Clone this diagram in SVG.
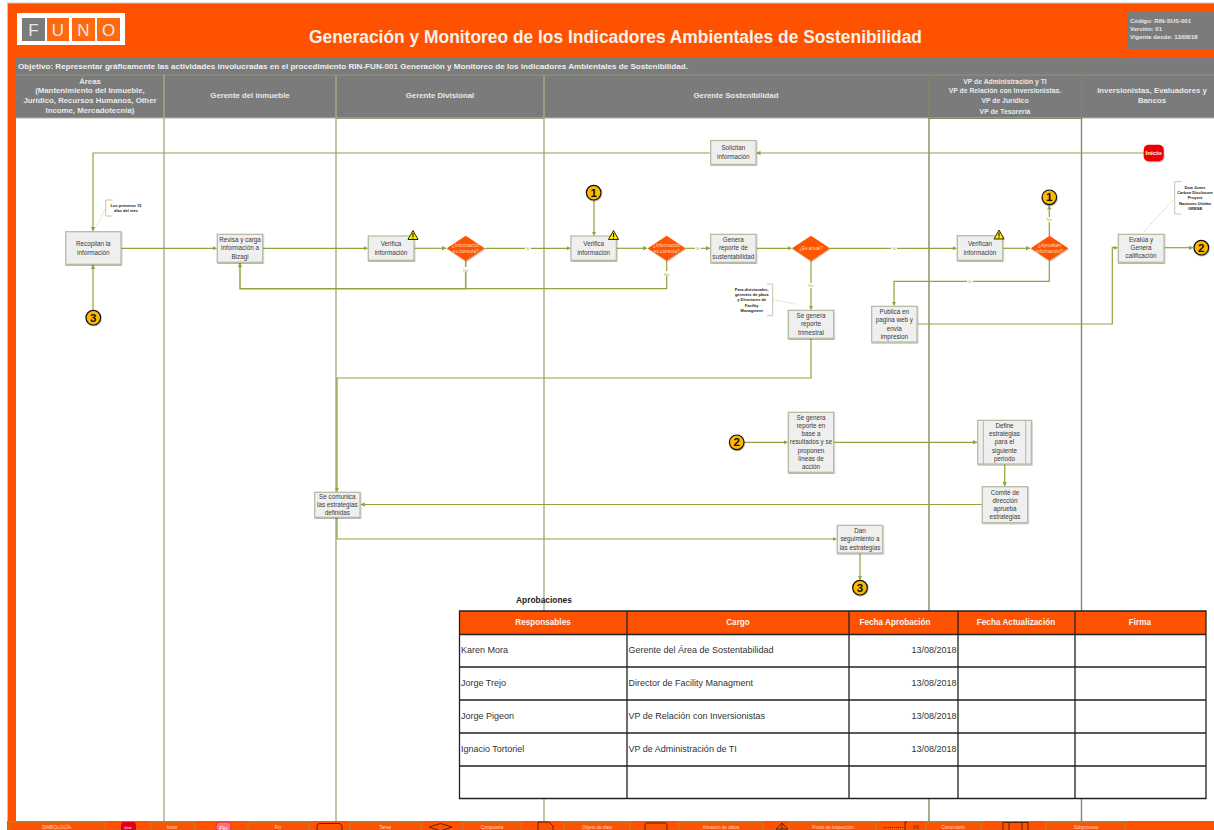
<svg xmlns="http://www.w3.org/2000/svg" width="1214" height="830" viewBox="0 0 1214 830">
<style>
text{font-family:"Liberation Sans",Arial,sans-serif}
.n{fill:#efefef;stroke:#b3b99c;stroke-width:1.2;filter:url(#sh)}
.t{font-size:6.3px;fill:#3a3a3a;text-anchor:middle}
.d{fill:#ff5500;filter:url(#sh)}
.dt{font-size:4.700px;fill:#ffd9c4;text-anchor:middle}
.c{fill:none;stroke:#8fa33f;stroke-width:1.2}
.ca{fill:none;stroke:#8fa33f;stroke-width:1.2;marker-end:url(#a)}
.lab{font-size:4.4px;fill:#a8b56a;text-anchor:middle}
.labbg{fill:#fff}
.circ{fill:#ffb800;stroke:#111;stroke-width:1.2;filter:url(#sh)}
.ct{font-size:11.5px;font-weight:700;fill:#111;text-anchor:middle}
.w{fill:#ffee00;stroke:#111;stroke-width:.9;stroke-linejoin:round}
.wm{stroke:#111;stroke-width:1.1;fill:none}
.br{fill:none;stroke:#c3c8ae;stroke-width:1}
.dot{fill:none;stroke:#b3bd7d;stroke-width:.9;stroke-dasharray:1 1.6}
.nt{font-size:4px;font-weight:700;fill:#222;text-anchor:middle}
.lh{font-size:7.8px;font-weight:700;fill:#e9e9e9;text-anchor:middle}
.lv{font-size:6.8px}
.lane{stroke:#a6ae8a;stroke-width:1.4}
.th{font-size:8.2px;font-weight:700;fill:#f6f6f6;text-anchor:middle}
.td{font-size:9px;fill:#333}
.tg{fill:none;stroke:#222;stroke-width:1.3}
.fb{fill:none;stroke:#a8873c;stroke-width:1}
.ft{font-size:4.6px;fill:#ffd9c4;text-anchor:middle}
.fs{fill:none;stroke:#4a2000;stroke-width:.9}
.lg{font-size:17px;fill:#e8e8e8;text-anchor:middle}
</style>
<defs>
<marker id="a" markerWidth="6" markerHeight="6" refX="4" refY="2.2" orient="auto" markerUnits="userSpaceOnUse"><path d="M0 0L4.2 2.2L0 4.4Z" fill="#8fa33f"/></marker>
<filter id="sh" x="-20%" y="-20%" width="140%" height="140%"><feDropShadow dx="0.5" dy="1" stdDeviation="0.7" flood-color="#000" flood-opacity="0.3"/></filter>
</defs>
<rect width="1214" height="830" fill="#fff"/>

<g id="frame">
<rect x="7" y="3" width="1207" height="55" fill="#ff5200"/>
<rect x="7" y="58" width="9" height="763" fill="#ff5200"/>
<path d="M7.5 3V821" stroke="#c8c8c0" stroke-width="1" fill="none"/>
<path d="M7 3H1214" stroke="#c8c8c0" stroke-width="1" fill="none"/>
<rect x="16" y="58" width="1198" height="17" fill="#7b7b7b"/>
<rect x="16" y="75" width="1198" height="43" fill="#7b7b7b"/>
<path d="M16 75H1214" stroke="#8f9775" stroke-width="1"/>
<path d="M16 118H1214" stroke="#b3b99c" stroke-width="1"/>
</g>

<g id="logo">
<rect x="17" y="13" width="108" height="32" fill="#fff"/>
<rect x="22" y="18" width="23" height="23" fill="#7b7b7b"/>
<rect x="47" y="18" width="22" height="23" fill="#ff6a10"/>
<rect x="72" y="18" width="23" height="23" fill="#ff6a10"/>
<rect x="97" y="18" width="23" height="23" fill="#ff6a10"/>
<text class="lg" x="33.5" y="36">F</text>
<text class="lg" x="58" y="36">U</text>
<text class="lg" x="83.5" y="36">N</text>
<text class="lg" x="108.5" y="36">O</text>
</g>

<g id="title">
<text x="309" y="43" font-size="18px" font-weight="700" fill="#f7f1ec" textLength="613" lengthAdjust="spacingAndGlyphs">Generación y Monitoreo de los Indicadores Ambientales de Sostenibilidad</text>
<rect x="1127" y="11" width="87" height="39" fill="#7b7b7b"/>
<text x="1130" y="23" font-size="6px" font-weight="700" fill="#e9e9e9">Código: RIN-SUS-001</text>
<text x="1130" y="31" font-size="6px" font-weight="700" fill="#e9e9e9">Versión: 01</text>
<text x="1130" y="39" font-size="6px" font-weight="700" fill="#e9e9e9">Vigente desde: 13/08/18</text>
<text x="18" y="68.500" font-size="7.800px" font-weight="700" fill="#f0f0f0" textLength="670" lengthAdjust="spacingAndGlyphs">Objetivo: Representar gráficamente las actividades involucradas en el procedimiento RIN-FUN-001 Generación y Monitoreo de los indicadores Ambientales de Sostenibilidad.</text>
</g>

<g id="lanes">
<path class="lane" d="M164 75V821"/>
<path class="lane" d="M336 75V821"/>
<path class="lane" d="M544 75V821"/>
<path class="lane" d="M929 75V821" style="stroke:#7f8a5e"/>
<path class="lane" d="M1081.500 75V821" style="stroke:#7f8a5e"/>
<path d="M336 118.500H544" stroke="#9aa383" stroke-width="1"/>
<path d="M929 118.500H1081" stroke="#7f8a5e" stroke-width="1"/>
<text class="lh" x="90" y="84">Áreas</text>
<text class="lh" x="90" y="93">(Mantenimiento del Inmueble,</text>
<text class="lh" x="90" y="103">Jurídico, Recursos Humanos, Other</text>
<text class="lh" x="90" y="113">Income, Mercadotecnia)</text>
<text class="lh" x="250" y="98">Gerente del inmueble</text>
<text class="lh" x="440" y="98">Gerente Divisional</text>
<text class="lh" x="736" y="98">Gerente Sostenibilidad</text>
<text class="lh lv" x="1005" y="84">VP de Administración y TI</text>
<text class="lh lv" x="1005" y="93">VP de Relación con Inversionistas.</text>
<text class="lh lv" x="1005" y="103">VP de Jurídico</text>
<text class="lh lv" x="1005" y="114">VP de Tesorería</text>
<text class="lh" x="1152" y="93">Inversionistas, Evaluadores y</text>
<text class="lh" x="1152" y="103">Bancos</text>
</g>

<g id="connectors">
<path class="ca" d="M1144 153H756.500"/>
<path class="ca" d="M710 153H93V231"/>
<path class="ca" d="M93 310V265"/>
<path class="ca" d="M121 248.300H216.500"/>
<path class="ca" d="M263 248.300H367.500"/>
<path class="ca" d="M414 248.300H446"/>
<path class="ca" d="M485 248.300H570.500"/>
<path class="ca" d="M617 248.300H647"/>
<path class="ca" d="M594 200.500V235.500"/>
<path class="ca" d="M685.500 248.300H710"/>
<path class="ca" d="M756.500 248.300H791.500"/>
<path class="ca" d="M830 248.300H956.500"/>
<path class="ca" d="M1003 248.300H1030"/>
<path class="ca" d="M465.700 261V288.700H240V263" style="stroke-width:1.5"/>
<path class="c" d="M666.700 261V288.700H465.700"/>
<path class="ca" d="M811 261V309.500"/>
<path class="ca" d="M1049.300 236V205.500"/>
<path class="ca" d="M1049.300 261V281.300H894V305.500"/>
<path class="ca" d="M917.500 324H1112.300V247.700H1117.500"/>
<path class="ca" d="M1164.500 247.700H1193"/>
<path class="ca" d="M811 338.500V378H337V491.500"/>
<path class="ca" d="M744.500 442.300H787.500"/>
<path class="ca" d="M834 442.300H977"/>
<path class="ca" d="M1004.700 464V486"/>
<path class="ca" d="M982 504.500H360.800"/>
<path class="ca" d="M337 517.500V539H836.500"/>
<path class="ca" d="M860 553.500V579.500"/>
<rect class="labbg" x="461" y="267" width="9" height="5"/><text class="lab" x="465.700" y="271.500">No</text>
<rect class="labbg" x="662" y="271" width="9" height="5"/><text class="lab" x="666.700" y="275.500">No</text>
<rect class="labbg" x="806.500" y="283" width="9" height="5"/><text class="lab" x="811" y="287">No</text>
<rect class="labbg" x="1045" y="217" width="9" height="5"/><text class="lab" x="1049.300" y="221">No</text>
<rect class="labbg" x="525" y="246" width="6" height="5"/><text class="lab" x="528" y="250">Si</text>
<rect class="labbg" x="695" y="246" width="6" height="5"/><text class="lab" x="698" y="250">Si</text>
<rect class="labbg" x="891" y="246" width="6" height="5"/><text class="lab" x="894" y="250">Si</text>
<rect class="labbg" x="967" y="279" width="6" height="5"/><text class="lab" x="970" y="283">Si</text>
<path class="dot" d="M105.700 208L95 229"/>
<path class="dot" d="M773.300 300L796.700 304.300"/>
<path class="dot" d="M1174.700 198.300L1142.700 233.300"/>
</g>

<g id="inicio"><rect x="1143.700" y="144.700" width="20" height="16.500" rx="5" fill="#ee0000" filter="url(#sh)"/><text x="1153.700" y="155" font-size="6.200px" font-weight="700" fill="#fff" text-anchor="middle">Inicio</text></g>
<g id="solicitan"><rect class="n" x="710.700" y="140.500" width="45.300" height="24"/><text class="t" x="733.300" y="150">Solicitan</text><text class="t" x="733.300" y="158.500">información</text></g>
<g id="recopilan"><rect class="n" x="65.700" y="231.700" width="55.300" height="32.600"/><text class="t" x="93.300" y="246">Recopilan la</text><text class="t" x="93.300" y="255">información</text></g>
<g id="revisa"><rect class="n" x="217.300" y="234.300" width="45.400" height="28"/><text class="t" x="240" y="241.500">Revisa y carga</text><text class="t" x="240" y="250">información a</text><text class="t" x="240" y="259">Bizagi</text></g>
<g id="verifica1"><rect class="n" x="368.300" y="236" width="45.700" height="24.300"/><text class="t" x="391" y="246">Verifica</text><text class="t" x="391" y="255">información</text></g>
<g id="warn1"><path class="w" d="M413 230.500L418 239.500H408Z"/><path class="wm" d="M413 233V237M413 237.800V238.800"/></g>
<g id="dec1"><path class="d" d="M465.700 235.700L484.700 248.300L465.700 261L446.700 248.300Z"/><text class="dt" x="465.700" y="247">¿Información</text><text class="dt" x="465.700" y="252.500">es correcta?</text></g>
<g id="verifica2"><rect class="n" x="571" y="236" width="45.300" height="24.300"/><text class="t" x="593.700" y="246">Verifica</text><text class="t" x="593.700" y="255">información</text></g>
<g id="warn2"><path class="w" d="M613.500 230.500L618.500 239.500H608.500Z"/><path class="wm" d="M613.500 233V237M613.500 237.800V238.800"/></g>
<g id="c1a"><circle class="circ" cx="593.700" cy="192.700" r="7.300"/><text class="ct" x="593.700" y="196.800">1</text></g>
<g id="dec2"><path class="d" d="M666.700 235.700L685.500 248.300L666.700 260.800L647.700 248.300Z"/><text class="dt" x="666.700" y="247">¿Información</text><text class="dt" x="666.700" y="252.500">es correcta?</text></g>
<g id="genera"><rect class="n" x="710.700" y="234.300" width="45.300" height="28"/><text class="t" x="733.300" y="241.500">Genera</text><text class="t" x="733.300" y="250">reporte de</text><text class="t" x="733.300" y="259">sustentabilidad</text></g>
<g id="dec3"><path class="d" d="M811 235.700L830 248.300L811 261L792 248.300Z"/><text class="dt" x="811" y="250">¿Es anual?</text></g>
<g id="trimestral"><rect class="n" x="788.300" y="310.300" width="45.400" height="28"/><text class="t" x="811" y="317.500">Se genera</text><text class="t" x="811" y="326">reporte</text><text class="t" x="811" y="334.500">trimestral</text></g>
<g id="verifican"><rect class="n" x="957.300" y="235.700" width="45.400" height="24.600"/><text class="t" x="980" y="246">Verifican</text><text class="t" x="980" y="254.500">información</text></g>
<g id="warn3"><path class="w" d="M999 230L1004 239H994Z"/><path class="wm" d="M999 232.500V236.500M999 237.300V238.300"/></g>
<g id="dec4"><path class="d" d="M1049.500 235.700L1068.300 248.300L1049.500 260.700L1030.700 248.300Z"/><text class="dt" x="1049.500" y="247">¿Aprueban</text><text class="dt" x="1049.500" y="252.500">información?</text></g>
<g id="c1b"><circle class="circ" cx="1049.300" cy="197.300" r="7.300"/><text class="ct" x="1049.300" y="201.400">1</text></g>
<g id="publica"><rect class="n" x="871.700" y="306.300" width="45.300" height="35.700"/><text class="t" x="894.300" y="314">Publica en</text><text class="t" x="894.300" y="322">pagina web y</text><text class="t" x="894.300" y="330.500">envia</text><text class="t" x="894.300" y="339">impresion</text></g>
<g id="evalua"><rect class="n" x="1118.300" y="234.300" width="45.700" height="28"/><text class="t" x="1141" y="242">Evalúa y</text><text class="t" x="1141" y="250">Genera</text><text class="t" x="1141" y="258">calificación</text></g>
<g id="c2a"><circle class="circ" cx="1201.300" cy="247.700" r="7.300"/><text class="ct" x="1201.300" y="251.800">2</text></g>
<g id="c3a"><circle class="circ" cx="93.300" cy="317.700" r="7.300"/><text class="ct" x="93.300" y="321.800">3</text></g>

<g id="note1"><path class="br" d="M112.700 200H105.700V216H112.700"/><text class="nt" x="126" y="206.500">Los primeros 15</text><text class="nt" x="126" y="212">días del mes</text></g>
<g id="note2"><path class="br" d="M767 284H772.700V315.700H767"/><text class="nt" x="751.700" y="290.500">Para divisionales,</text><text class="nt" x="751.700" y="295.500">gerentes de plaza</text><text class="nt" x="751.700" y="300.500">y Directores de</text><text class="nt" x="751.700" y="306.500">Facility</text><text class="nt" x="751.700" y="311.500">Managment</text></g>
<g id="note3"><path class="br" d="M1181.700 181.700H1174.700V214H1181.700"/><text class="nt" x="1195" y="188.500">Dow Jones</text><text class="nt" x="1195" y="193.500">Carbon Disclosure</text><text class="nt" x="1195" y="198.500">Proyect</text><text class="nt" x="1195" y="204.500">Naciones Unidas</text><text class="nt" x="1195" y="209.500">GRESB</text></g>

<g id="c2b"><circle class="circ" cx="736.700" cy="442.300" r="7.300"/><text class="ct" x="736.700" y="446.400">2</text></g>
<g id="reporte"><rect class="n" x="788.300" y="412.300" width="45.400" height="60"/><text class="t" x="811" y="420">Se genera</text><text class="t" x="811" y="428">reporte en</text><text class="t" x="811" y="436">base a</text><text class="t" x="811" y="444">resultados y se</text><text class="t" x="811" y="453">proponen</text><text class="t" x="811" y="461">líneas de</text><text class="t" x="811" y="469">acción</text></g>
<g id="define"><rect class="n" x="977.700" y="420.300" width="53.600" height="43.700"/><path d="M983.300 420.300V464M1025.700 420.300V464" stroke="#b3b99c" stroke-width="1" fill="none"/><text class="t" x="1004.500" y="428">Define</text><text class="t" x="1004.500" y="436">estrategias</text><text class="t" x="1004.500" y="444">para el</text><text class="t" x="1004.500" y="453">siguiente</text><text class="t" x="1004.500" y="461">periodo</text></g>
<g id="comite"><rect class="n" x="982.300" y="486.700" width="45.400" height="36"/><text class="t" x="1005" y="495">Comité de</text><text class="t" x="1005" y="503">dirección</text><text class="t" x="1005" y="511">aprueba</text><text class="t" x="1005" y="519">estrategias</text></g>
<g id="comunica"><rect class="n" x="314.700" y="492.300" width="45.300" height="25"/><text class="t" x="337.300" y="499">Se comunica</text><text class="t" x="337.300" y="507">las estrategias</text><text class="t" x="337.300" y="515">definidas</text></g>
<g id="dan"><rect class="n" x="837.300" y="525.300" width="45.400" height="27.700"/><text class="t" x="860" y="532.500">Dan</text><text class="t" x="860" y="541">seguimiento a</text><text class="t" x="860" y="550">las estrategias</text></g>
<g id="c3b"><circle class="circ" cx="860" cy="587.700" r="7.300"/><text class="ct" x="860" y="591.800">3</text></g>

<g id="tabla">
<text x="516" y="602.500" font-size="8.400px" font-weight="700" fill="#222">Aprobaciones</text>
<rect x="459.500" y="611" width="746.500" height="187.500" fill="#fff"/>
<rect x="459.500" y="611" width="746.500" height="23.500" fill="#ff5200"/>
<path class="tg" d="M459.500 611H1206V798.500H459.500ZM459.500 634.500H1206M459.500 667H1206M459.500 700H1206M459.500 733H1206M459.500 766H1206M627 611V798.500M849 611V798.500M958 611V798.500M1075 611V798.500"/>
<text class="th" x="543" y="625">Responsables</text>
<text class="th" x="738" y="625">Cargo</text>
<text class="th" x="895" y="625">Fecha Aprobación</text>
<text class="th" x="1016" y="625">Fecha Actualización</text>
<text class="th" x="1140" y="625">Firma</text>
<text class="td" x="461" y="653">Karen Mora</text><text class="td" x="628.500" y="653">Gerente del Área de Sostentabilidad</text><text class="td" x="956.500" y="653" text-anchor="end">13/08/2018</text>
<text class="td" x="461" y="686">Jorge Trejo</text><text class="td" x="628.500" y="686">Director de Facility Managment</text><text class="td" x="956.500" y="686" text-anchor="end">13/08/2018</text>
<text class="td" x="461" y="719">Jorge Pigeon</text><text class="td" x="628.500" y="719">VP de Relación con Inversionistas</text><text class="td" x="956.500" y="719" text-anchor="end">13/08/2018</text>
<text class="td" x="461" y="752">Ignacio Tortoriel</text><text class="td" x="628.500" y="752">VP de Administración de TI</text><text class="td" x="956.500" y="752" text-anchor="end">13/08/2018</text>
</g>

<g id="simbologia">
<rect x="7" y="821" width="1207" height="9" fill="#ff5200"/>
<rect class="fb" x="9" y="822" width="96" height="10"/><text class="ft" x="57" y="828.500">SIMBOLOGÍA:</text>
<rect x="121" y="822" width="15" height="10" rx="3" fill="#e0001a"/><text x="128" y="829" font-size="3px" fill="#fff" text-anchor="middle">Inicio</text>
<rect class="fb" x="151" y="822" width="44" height="10"/><text class="ft" x="172" y="829">Inicio</text>
<rect x="216" y="822" width="15" height="10" rx="4" fill="#ff6f6f" stroke="#e0304a"/><text x="223.500" y="829.500" font-size="6px" fill="#fff" text-anchor="middle">Fin</text>
<rect class="fb" x="248" y="822" width="61" height="10"/><text class="ft" x="278" y="828.500">Fin</text>
<rect class="fs" x="317" y="823.500" width="25" height="10" rx="3"/>
<rect class="fb" x="350" y="822" width="71" height="10"/><text class="ft" x="385" y="828.500">Tarea</text>
<path class="fs" d="M429 827L440.500 823.500L452 827L440.500 831Z"/>
<rect class="fb" x="463" y="822" width="58" height="10"/><text class="ft" x="492" y="828.500">Compuerta</text>
<path class="fs" d="M538 832V822H549L553 826V832"/>
<rect class="fb" x="564" y="822" width="66" height="10"/><text class="ft" x="597" y="828.500">Objeto de dato</text>
<path class="fs" d="M645 832V824L646.500 823H665.500L667 824V832"/>
<rect class="fb" x="679" y="822" width="84" height="10"/><text class="ft" x="721" y="828.500">Almacén de datos</text>
<path class="fs" d="M776 829L782 823L788 829H776M782 823V829"/>
<rect class="fb" x="789" y="822" width="87" height="10"/><text class="ft" x="833" y="828.500">Punto de inspección</text>
<path d="M884 827.500H903" fill="none" stroke="#4a2000" stroke-width=".8" stroke-dasharray="1 1"/>
<path class="fs" d="M907 822H905V832"/>
<text x="916" y="828.500" font-size="4.600px" fill="#4a2000" text-anchor="middle">XX</text>
<rect class="fb" x="926" y="822" width="55" height="10"/><text class="ft" x="953" y="828.500">Comentario</text>
<path class="fs" d="M1003 832V822.500H1028V832M1009 822.500V832M1022 822.500V832"/>
<rect class="fb" x="1046" y="822" width="79" height="10"/><text class="ft" x="1086" y="828.500">Subproceso</text>
</g>
</svg>
